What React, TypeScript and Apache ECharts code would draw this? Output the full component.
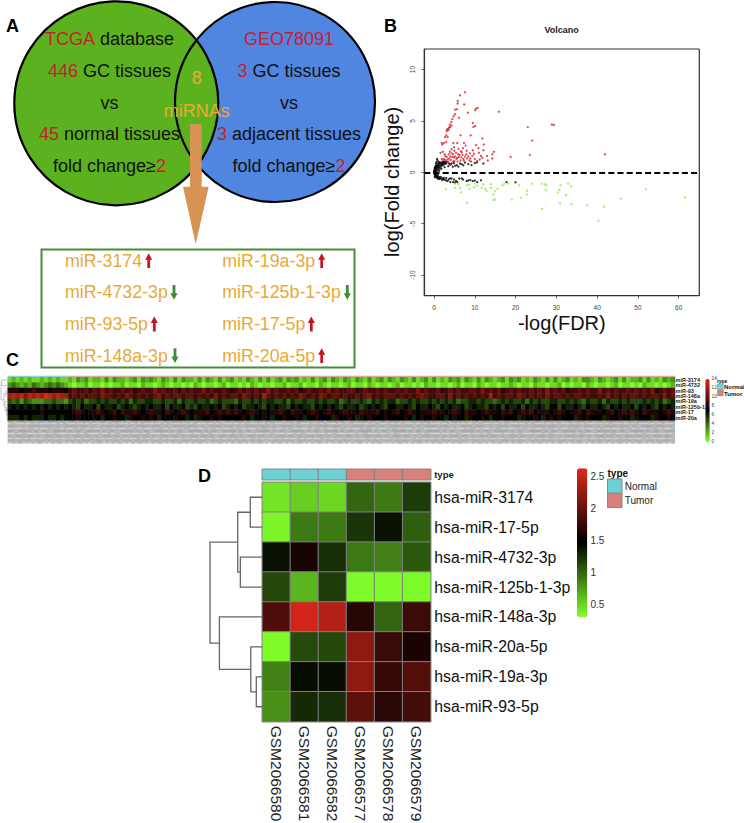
import React, { useEffect, useRef } from "react";
import * as echarts from "echarts";

const FONT = "'Liberation Sans', Arial, sans-serif";

// ---------- Panel B: volcano values ([-log(FDR), log(Fold change)])
const volcanoUp: number[][] = [
  [7.6,7.8],[6.4,7.5],[5.8,6.95],[5.8,6.7],[7.4,6.6],[5.2,6.1],[5.6,6.15],[10.3,6.2],[10.7,6.25],[10.1,6.05],
  [8.3,5.8],[15.9,5.9],[5.15,5.65],[4.8,5.45],[4.5,5.2],[4.25,4.9],[6.1,5.3],[9.5,4.8],[10.1,4.5],[9.65,4.4],
  [23,4.4],[28.9,4.65],[29.4,4.6],[3.9,4.65],[3.7,4.4],[3.35,4.2],[3.1,4.0],[3.5,4.1],[4.0,4.4],[4.3,4.55],
  [3.2,4.15],[3.6,4.25],[6.5,3.6],[9.0,3.6],[3.0,3.6],[2.7,3.45],[3.35,3.45],[11.85,3.3],[24.1,3.1],[2.45,2.85],
  [2.05,2.7],[3.0,2.95],[4.75,2.85],[5.7,2.85],[7.35,2.85],[7.75,2.6],[12.2,2.7],[10.3,2.65],[10.9,2.35],[1.9,2.85],
  [4.9,2.45],[4.3,2.25],[7.1,2.35],[6,2.3],[9.5,2.15],[12.1,2.15],[11,1.9],[14.7,2.0],[14.3,1.75],[23.5,1.7],
  [41.9,1.75],[18.8,1.5],[13,1.6],[11.5,1.6],[11.85,1.4],[14.3,1.35],[13.2,1.15],[1.6,1.9],[2.6,1.75],[3.1,1.5],
  [4.3,1.85],[5.4,1.9],[5.9,1.75],[6.8,1.95],[7.0,1.7],[7.6,1.55],[8.1,1.35],[9.4,1.6],[10.0,1.3],[4.9,1.45],
  [2.5,1.3],[2.9,1.15],[3.3,1.25],[3.7,1.35],[4.1,1.2],[4.5,1.5],[5.0,1.1],[5.5,1.3],[6.1,1.5],[6.5,1.15],
  [7.2,1.3],[8.7,1.15],[9.1,1.05],[10.6,1.1],[11.2,1.25],[2.1,1.05],[2.3,1.2],[3.5,1.05],[4.7,1.05],[5.8,1.05],
  [1.9,1.3],[2.8,1.6],[3.6,1.75],[4.0,1.55],[4.7,1.75],[5.2,1.55],[5.7,1.4],[6.3,1.7],[6.7,1.45],[7.3,1.15],
  [7.9,1.75],[8.4,1.55],[8.9,1.35],[9.8,1.8],[3.9,2.0],[2.2,2.0],[5.0,2.1],[6.6,2.05],[8.0,2.1],[8.8,1.85],
];
const volcanoMid: number[][] = [
  [0,0],[0.05,0.1],[0.1,-0.1],[0.1,0.2],[0.15,-0.2],[0.2,0.05],[0.2,0.3],[0.25,-0.3],[0.3,0.15],[0.3,-0.1],
  [0.35,0.35],[0.4,-0.35],[0.45,0.05],[0.5,0.45],[0.5,-0.2],[0.55,-0.42],[0.6,0.3],[0.65,0.5],[0.7,-0.3],[0.75,0.15],
  [0.8,0.55],[0.85,-0.45],[0.9,0.38],[0.95,0.6],[1.0,-0.4],[1.05,0.25],[1.1,0.65],[1.15,-0.5],[1.2,0.5],[1.3,0.7],
  [1.35,-0.55],[1.4,0.4],[1.5,0.75],[1.6,-0.6],[1.65,0.55],[1.75,0.8],[1.85,-0.5],[1.9,0.65],[2.0,0.85],[2.15,-0.65],
  [2.2,0.72],[2.35,0.88],[2.5,-0.7],[2.55,0.78],[2.7,0.92],[2.9,-0.78],[3.0,0.85],[3.1,0.98],[0.9,1.15],[0.5,0.85],
  [0.6,1.0],[0.75,1.3],[1.2,1.0],[0.4,0.65],[3.3,-0.85],[3.5,0.6],[3.7,0.85],[3.9,-0.6],[4.0,0.75],[4.3,0.85],
  [4.3,-0.6],[4.6,0.55],[4.9,0.9],[5.15,-1],[5.2,0.65],[5.6,0.7],[5.7,-0.95],[6.0,0.55],[6.2,-0.6],[6.4,0.85],
  [6.8,0.8],[6.8,-0.6],[7.2,0.68],[7.1,-0.7],[7.6,0.95],[8.0,-0.85],[8.4,0.8],[8.4,-0.8],[8.9,-0.75],[9.2,0.7],
  [9.5,-0.85],[10,0.9],[10,-0.8],[10.5,0.97],[10.6,-0.95],[11.5,-0.78],[12.1,0.85],[17.8,-0.95],[20,-0.97],[4.7,-0.95],
  [1.0,-0.2],[1.3,0.15],[0.2,-0.45],[0.65,-0.1],[0.15,0.42],[2.6,0.5],[3.0,-0.55],[1.8,0.35],
  [0.3,0.5],[0.45,0.6],[0.7,0.72],[1.0,0.85],[1.25,0.9],[1.55,0.95],[1.9,0.95],[2.3,1.0],[2.65,1.02],[0.35,-0.2],
  [0.6,-0.5],[0.9,-0.6],[1.25,-0.65],[1.5,-0.45],[2.0,-0.75],[2.4,-0.55],[3.6,-0.7],[4.0,-0.95],[4.9,-0.7],[5.4,-0.85],
];
const volcanoDown: number[][] = [
  [2.95,-1.65],[5.15,-1.1],[6,-1.15],[5.15,-1.5],[6.4,-1.5],[6.6,-1.95],[8.1,-1.25],[8.65,-1.2],[8.65,-1.6],[8.1,-2.95],
  [9.8,-1.45],[10.05,-1.1],[10.6,-1.3],[11.7,-1.5],[12.1,-1.15],[12.5,-1.6],[12.9,-1.8],[13.9,-1.15],[14,-1.5],[15,-1.85],
  [15.6,-1.6],[14.6,-2.15],[14.55,-2.7],[15,-2.65],[16.8,-1.25],[17.25,-1.1],[18.2,-1.1],[19.1,-2.65],[20.85,-1.25],[21.4,-2.5],
  [22.8,-1.8],[22.8,-2.15],[24,-1.1],[26.4,-1.1],[27.2,-1.15],[27.6,-1.25],[27.4,-1.75],[26.5,-3.55],[30.35,-1.95],[30.75,-1.7],
  [31,-1.25],[30.9,-3],[32.4,-2.2],[32.9,-1.1],[33.6,-1.35],[33.7,-3.1],[37.6,-3.2],[41.7,-3.35],[40.3,-4.7],[45.8,-2.55],
  [52,-1.65],[61.5,-2.45],
];
const volcanoXTicks = [0, 10, 20, 30, 40, 50, 60];
const volcanoYTicks = [-10, -5, 0, 5, 10];

// ---------- Panel C: expression per sample, one hex digit per sample (0..e), 15 normal then tumour samples
const cRowNames = ["miR-3174", "miR-4732", "miR-93", "miR-148a", "miR-19a", "miR-125b-1", "miR-17", "miR-20a"];
const cNormalCount = 15;
const cMiR3174 = "121212112121211 2132312213 1322123132 3213213132 2131321312 3121321313 1231323121 3123132132 1321312313 2132131231 3121323132 1313212313 2312132131 3123121332 1321231312 2313121323";
const cMiR4732 = "343232432343432 1011201101 0112011021 1012101101 0210110120 1101021011 0112011201 1021011012 0110210110 1201101021 1011012011 0210110112 1011021101 1201011021 0110120110 1021101012";
const cMiR93 = "888788988878887 9a99a8a9b9 a99a9a89a9 9b9a99a8a9 a99b9a99a9 89a9a9a99b 9a99a9a89a 99a9b9a99a a89a99a9a9 9a9a99b9a9 9a89a9a99a a9b9a9a89a 9a99a9a9b9 a9a899a9a9 9b9a9a99a9 a9a9b89a9a";
const cMiR148a = "cdcdbdcdcedcdcc 9a9a9aa9ba a9a9ba9a9a 9ab9a9aa9a a9a9a9b9a9 aa9ba9a9ca 9a9a9a9ba9 a9ba9aa9a9 9a9ab9a9aa a9a9a9aba9 9aa9b9a9a9 a9a9c9a9aa 9ba9a9a9b9 aa9a9aa9a9 9a9b9a9a9a a9a9aa9b9a";
const cMiR19a = "545354333445443 5656455656 5565646556 6556556465 5655645655 5465565656 6556465565 5656556456 5565465656 6455656556 5656564556 6565545656 5564656556 6556565465 5646556565 5565656456";
const cMiR125b = "676767676767676 7657667576 6756765676 7667576675 6576676756 7675667657 6766576766 5767676576 6756767657 7667657667 6576766756 7665767576 6757667657 7576676576 6765767667 5767657676";
const cMiR17 = "777777778777777 7898788987 8979889878 9887987898 7888978989 8987898787 8898798878 9878987898 8798889787 8978987888 9887898798 8789887989 7898978887 8987889798 8878978989 8798887898";
const cMiR20a = "666767666766767 7787778767 7877687787 8767778776 7687787877 7778767787 6778778767 7877768778 7687877787 7778767877 8776787768 7787677877 7687787678 7877768787 7768778776 8777687787";
const cRows = [cMiR3174, cMiR4732, cMiR93, cMiR148a, cMiR19a, cMiR125b, cMiR17, cMiR20a].map((s) =>
  s.replace(/ /g, "").split("").map((d) => parseInt(d, 16))
);
const cColumns = cRows[0].map((_, i) => String(i));
const cBarTicks = [14, 12, 10, 8, 6, 4, 2, 0];
// branches: [rowA, heightA, rowB, heightB, mergeHeight]
const cTree = [
  [2, 0, 3, 0, 0.25], [6, 0, 7, 0, 0.1], [5, 0, 6.5, 0.1, 0.2], [4, 0, 5.75, 0.2, 0.4],
  [2.5, 0.25, 4.9, 0.4, 0.55], [0, 0, 1, 0, 0.9], [0.5, 0.9, 3.7, 0.55, 1],
];

// ---------- Panel D
const dRowNames = ["hsa-miR-3174", "hsa-miR-17-5p", "hsa-miR-4732-3p", "hsa-miR-125b-1-3p", "hsa-miR-148a-3p", "hsa-miR-20a-5p", "hsa-miR-19a-3p", "hsa-miR-93-5p"];
const dSamples = ["GSM2066580", "GSM2066581", "GSM2066582", "GSM2066577", "GSM2066578", "GSM2066579"];
const dType = [0, 0, 0, 1, 1, 1];
const dMiR3174 = [0.41, 0.52, 0.47, 0.99, 0.9, 1.19];
const dMiR17 = [0.33, 0.91, 0.9, 1.22, 1.38, 1.03];
const dMiR4732 = [1.38, 1.58, 1.25, 0.91, 0.87, 1.05];
const dMiR125b = [1.13, 0.63, 1.18, 0.31, 0.31, 0.31];
const dMiR148a = [1.87, 2.55, 2.4, 1.66, 1.0, 1.77];
const dMiR20a = [0.31, 1.12, 1.13, 2.2, 1.74, 1.59];
const dMiR19a = [0.87, 1.4, 1.4, 2.2, 1.73, 1.9];
const dMiR93 = [0.8, 1.27, 1.25, 1.95, 1.68, 1.81];
const dRows = [dMiR3174, dMiR17, dMiR4732, dMiR125b, dMiR148a, dMiR20a, dMiR19a, dMiR93];
const dBarTicks = [2.5, 2, 1.5, 1, 0.5];
const dTree = [
  [0, 0, 1, 0, 0.23], [2, 0, 3, 0, 0.42], [0.5, 0.23, 2.5, 0.42, 0.47], [6, 0, 7, 0, 0.115],
  [5, 0, 6.5, 0.115, 0.22], [4, 0, 5.75, 0.22, 0.82], [1.5, 0.47, 4.875, 0.82, 1],
];

// ---------- Panel A
const listLeft = [
  { name: "miR-3174", up: true }, { name: "miR-4732-3p", up: false },
  { name: "miR-93-5p", up: true }, { name: "miR-148a-3p", up: false },
];
const listRight = [
  { name: "miR-19a-3p", up: true }, { name: "miR-125b-1-3p", up: false },
  { name: "miR-17-5p", up: true }, { name: "miR-20a-5p", up: true },
];

const RED = "#c5222c";
const INK = "#111111";
const GOLD = "#e8aa35";
const LIME = "#80ff2a";
const HOT = "#e0281a";
const TEAL = "#6fd0d6";
const SALMON = "#d9807a";

function richLine(x: number, y: number, text: string) {
  return {
    type: "text", x, y, silent: true,
    style: {
      text, align: "center", verticalAlign: "middle", fontFamily: FONT, fontSize: 18, fill: INK,
      rich: {
        r: { fill: RED, fontSize: 18, fontFamily: FONT },
        k: { fill: INK, fontSize: 18, fontFamily: FONT },
      },
    },
  };
}
function label(x: number, y: number, text: string, fontSize: number, fill = INK, fontWeight = "normal", align = "left") {
  return {
    type: "text", x, y, silent: true,
    style: { text, fontSize, fontWeight, fill, fontFamily: FONT, align, verticalAlign: "middle" },
  };
}
function miniArrow(x: number, y: number, up: boolean) {
  const c = up ? "#c01826" : "#3f8a35";
  const d = up ? -1 : 1;
  const half = 7.4;
  return {
    type: "polygon", silent: true,
    shape: {
      points: [
        [x, y + d * half], [x + 3.6, y + d * (half - 6.5)], [x + 1.4, y + d * (half - 6.5)], [x + 1.4, y - d * half],
        [x - 1.4, y - d * half], [x - 1.4, y + d * (half - 6.5)], [x - 3.6, y + d * (half - 6.5)],
      ],
    },
    style: { fill: c },
  };
}
function frameLine(x1: number, y1: number, x2: number, y2: number) {
  return { type: "line", silent: true, z: 100, shape: { x1, y1, x2, y2 }, style: { stroke: "#333333", lineWidth: 1.2 } };
}

function treeSeries(xAxisIndex: number, yAxisIndex: number, tree: number[][], stroke: string, lineWidth: number) {
  return {
    type: "custom", coordinateSystem: "cartesian2d", xAxisIndex, yAxisIndex, silent: true, clip: false,
    encode: { x: [1, 3, 4], y: [0, 2] },
    data: tree,
    renderItem: (_: any, api: any) => {
      const rowA = api.value(0), hA = api.value(1), rowB = api.value(2), hB = api.value(3), hM = api.value(4);
      return {
        type: "polyline",
        shape: { points: [api.coord([hA, rowA]), api.coord([hM, rowA]), api.coord([hM, rowB]), api.coord([hB, rowB])] },
        style: { stroke, lineWidth, fill: "none" },
      };
    },
  };
}

function buildOption() {
  const itemX = [65, 222.3];
  const rowY = [260.7, 292.3, 324, 355.7];
  const leftArrowX = [148.7, 174, 154.3, 175];
  const rightArrowX = [321.7, 347.3, 311.3, 321.7];

  const graphic: any[] = [
    label(6, 25.5, "A", 18, "#000", "bold"),
    label(384, 25.5, "B", 18, "#000", "bold"),
    label(6, 360, "C", 18, "#000", "bold"),
    label(198, 475.5, "D", 18, "#000", "bold"),
    // Volcano frame
    frameLine(424.3, 49, 699.3, 49),
    frameLine(699.3, 49, 699.3, 295.7),
    frameLine(699.3, 295.7, 424.3, 295.7),
    frameLine(424.3, 295.7, 424.3, 49),
    // Venn: fills, then both outlines
    { type: "circle", silent: true, shape: { cx: 275, cy: 102, r: 100 }, style: { fill: "#5086e0" } },
    { type: "circle", silent: true, shape: { cx: 116.3, cy: 103.3, r: 102 }, style: { fill: "#5cb21e" } },
    { type: "circle", silent: true, shape: { cx: 275, cy: 102, r: 100 }, style: { fill: "none", stroke: "#000", lineWidth: 2.2 } },
    { type: "circle", silent: true, shape: { cx: 116.3, cy: 103.3, r: 102 }, style: { fill: "none", stroke: "#000", lineWidth: 2.2 } },
    richLine(109.5, 39, "{r|TCGA} {k|database}"),
    richLine(109.5, 71, "{r|446} {k|GC tissues}"),
    richLine(109.5, 102.7, "{k|vs}"),
    richLine(109.5, 134.3, "{r|45} {k|normal tissues}"),
    richLine(109.5, 166, "{k|fold change≥}{r|2}"),
    richLine(289, 39, "{r|GEO78091}"),
    richLine(289, 71, "{r|3} {k|GC tissues}"),
    richLine(289, 102.7, "{k|vs}"),
    richLine(289, 134.3, "{r|3} {k|adjacent tissues}"),
    richLine(289, 166, "{k|fold change≥}{r|2}"),
    label(196.7, 78.3, "8", 18, GOLD, "normal", "center"),
    label(196.7, 110.7, "miRNAs", 18, GOLD, "normal", "center"),
    {
      type: "polygon", silent: true,
      shape: { points: [[190, 124], [201.7, 124], [201.7, 186.7], [208.7, 186.7], [195.7, 244], [183, 186.7], [190, 186.7]] },
      style: { fill: "#d89253" },
    },
    { type: "rect", silent: true, shape: { x: 41.5, y: 249.5, width: 313, height: 118 }, style: { fill: "#fff", stroke: "#4a8b3b", lineWidth: 2 } },
  ];
  listLeft.forEach((it, i) => {
    graphic.push(label(itemX[0], rowY[i], it.name, 17.8, GOLD));
    graphic.push(miniArrow(leftArrowX[i], rowY[i], it.up));
  });
  listRight.forEach((it, i) => {
    graphic.push(label(itemX[1], rowY[i], it.name, 17.8, GOLD));
    graphic.push(miniArrow(rightArrowX[i], rowY[i], it.up));
  });

  // Panel C: illegible sample-name strip, then bar ticks and legend
  graphic.push({ type: "rect", silent: true, shape: { x: 7.7, y: 420.3, width: 667.3, height: 23.4 }, style: { fill: "#b8b8b8" } });
  [
    { y: 421.5, c: "#9e9e9e", d: [6, 3, 11, 2, 4, 5] },
    { y: 423.5, c: "#cfcfcf", d: [3, 4, 9, 2, 5, 3] },
    { y: 426, c: "#a2a2a2", d: [9, 4, 3, 5, 12, 3] },
    { y: 428.5, c: "#d4d4d4", d: [4, 3, 7, 4, 2, 6] },
    { y: 431, c: "#9c9c9c", d: [5, 6, 13, 3, 3, 4] },
    { y: 433.5, c: "#d6d6d6", d: [7, 3, 4, 5, 10, 2] },
    { y: 436, c: "#a0a0a0", d: [3, 5, 8, 3, 6, 4] },
    { y: 438.5, c: "#d0d0d0", d: [5, 2, 6, 4, 3, 3] },
    { y: 441, c: "#a8a8a8", d: [8, 3, 4, 2, 7, 5] },
    { y: 443, c: "#ececec", d: [4, 3, 2, 6, 3, 2] },
  ].forEach((s) =>
    graphic.push({
      type: "line", silent: true, shape: { x1: 7.7, y1: s.y, x2: 675, y2: s.y },
      style: { stroke: s.c, lineWidth: 1.2, lineDash: s.d },
    })
  );
  cBarTicks.forEach((t) => graphic.push(label(711.5, 441 - t * 4.43, String(t), 4.8, "#444")));
  graphic.push(label(717, 380.5, "type", 5, "#111", "bold"));
  graphic.push({ type: "rect", silent: true, shape: { x: 717.3, y: 384, width: 6, height: 6 }, style: { fill: TEAL, stroke: "#888", lineWidth: 0.4 } });
  graphic.push({ type: "rect", silent: true, shape: { x: 717.3, y: 390, width: 6, height: 6 }, style: { fill: SALMON, stroke: "#888", lineWidth: 0.4 } });
  graphic.push(label(724, 387, "Normal", 6, "#111", "bold"));
  graphic.push(label(724, 393.5, "Tumor", 6, "#111", "bold"));

  // Panel D: bar ticks and legend
  dBarTicks.forEach((t) => graphic.push(label(590.5, 476.7 + (2.5 - t) * 63.65, String(t), 10, "#333")));
  graphic.push(label(607.5, 473, "type", 10, "#111", "bold"));
  graphic.push({ type: "rect", silent: true, shape: { x: 607.5, y: 479, width: 14.5, height: 14.3 }, style: { fill: TEAL, stroke: "#888", lineWidth: 1 } });
  graphic.push({ type: "rect", silent: true, shape: { x: 607.5, y: 493.3, width: 14.5, height: 14.3 }, style: { fill: SALMON, stroke: "#888", lineWidth: 1 } });
  graphic.push(label(624.7, 486.5, "Normal", 10, "#222"));
  graphic.push(label(624.7, 500.5, "Tumor", 10, "#222"));

  const cHeat: number[][] = [];
  cRows.forEach((row, r) => row.forEach((v, c) => cHeat.push([c, r, v])));
  const cAnno = cColumns.map((_, i) => [i, 0, i < cNormalCount ? 0 : 1]);
  const dHeat: number[][] = [];
  dRows.forEach((row, r) => row.forEach((v, c) => dHeat.push([c, r, v])));
  const dAnno = dType.map((t, i) => [i, 0, t]);

  const hiddenCat = (data: string[], gridIndex: number, extra: any = {}) => ({
    type: "category", gridIndex, data,
    axisLine: { show: false }, axisTick: { show: false }, axisLabel: { show: false }, splitLine: { show: false }, splitArea: { show: false },
    ...extra,
  });
  const hiddenVal = (gridIndex: number, min: number, max: number, inverse: boolean) => ({
    type: "value", gridIndex, min, max, inverse, show: false, splitLine: { show: false },
  });

  return {
    animation: false,
    backgroundColor: "#ffffff",
    title: {
      text: "Volcano", left: 556.7, top: 20, textAlign: "center",
      textStyle: { fontSize: 9, fontWeight: "bold", fontFamily: FONT, color: "#222" },
    },
    grid: [
      { left: 424.3, top: 49, width: 275, height: 246.7, outerBoundsMode: "none" },
      { left: 7.7, top: 376, width: 667.3, height: 1.4, outerBoundsMode: "none" },
      { left: 7.7, top: 377.3, width: 667.3, height: 43, outerBoundsMode: "none" },
      { left: 1, top: 377.3, width: 6.7, height: 43, outerBoundsMode: "none" },
      { left: 262.3, top: 469.3, width: 168.4, height: 10.4, outerBoundsMode: "none" },
      { left: 262.3, top: 482.3, width: 168.4, height: 239.4, outerBoundsMode: "none" },
      { left: 210, top: 482.3, width: 52.3, height: 239.4, outerBoundsMode: "none" },
    ],
    xAxis: [
      {
        type: "value", gridIndex: 0, min: -2.38, max: 65.05, name: "-log(FDR)", nameLocation: "middle", nameGap: 17,
        nameTextStyle: { fontSize: 20, fontFamily: FONT, color: "#111" },
        splitLine: { show: false },
        axisLine: { show: true, onZero: false, lineStyle: { color: "#333", width: 1.2 } },
        axisTick: { show: true, length: 3, customValues: volcanoXTicks, lineStyle: { color: "#444", width: 0.8 } },
        axisLabel: { customValues: volcanoXTicks, fontSize: 6.5, color: "#444", fontFamily: FONT, margin: 8 },
      },
      hiddenCat(cColumns, 1),
      hiddenCat(cColumns, 2),
      hiddenVal(3, 0, 1, true),
      hiddenCat(dSamples, 4),
      hiddenCat(dSamples, 5, {
        axisLabel: { show: true, interval: 0, rotate: -90, margin: 4, fontSize: 15.5, color: "#222", fontFamily: FONT },
      }),
      hiddenVal(6, 0, 1, true),
    ],
    yAxis: [
      {
        type: "value", gridIndex: 0, min: -12, max: 12, name: "log(Fold change)", nameLocation: "middle", nameGap: 22,
        nameTextStyle: { fontSize: 20, fontFamily: FONT, color: "#111", padding: [0, 19, 0, 0] },
        splitLine: { show: false },
        axisLine: { show: true, onZero: false, lineStyle: { color: "#333", width: 1.2 } },
        axisTick: { show: true, length: 3, customValues: volcanoYTicks, lineStyle: { color: "#444", width: 0.8 } },
        axisLabel: { customValues: volcanoYTicks, rotate: 90, fontSize: 6.5, color: "#444", fontFamily: FONT, margin: 8 },
      },
      hiddenCat(["type"], 1),
      hiddenCat(cRowNames, 2, {
        inverse: true, position: "right",
        axisLabel: { show: true, interval: 0, margin: 0.5, fontSize: 5.5, fontWeight: "bold", color: "#222", fontFamily: FONT },
      }),
      hiddenVal(3, -0.5, 7.5, true),
      hiddenCat(["type"], 4, {
        position: "right",
        axisLabel: { show: true, margin: 3.5, fontSize: 9.5, fontWeight: "bold", color: "#222", fontFamily: FONT },
      }),
      hiddenCat(dRowNames, 5, {
        inverse: true, position: "right",
        axisLabel: { show: true, interval: 0, margin: 3.5, fontSize: 15.8, color: "#111", fontFamily: FONT },
      }),
      hiddenVal(6, -0.5, 7.5, true),
    ],
    visualMap: [
      {
        type: "piecewise", show: false, seriesIndex: 3, dimension: 2,
        pieces: [{ value: 0, color: "#8fd0e0" }, { value: 1, color: "#e0a5a5" }],
      },
      {
        type: "continuous", show: true, seriesIndex: 4, dimension: 2, min: 0, max: 14, left: 705.3, top: 379,
        itemWidth: 4.4, itemHeight: 63, padding: 0, text: ["", ""], calculable: false, hoverLink: false,
        inRange: { color: [LIME, "#000000", HOT] },
      },
      {
        type: "piecewise", show: false, seriesIndex: 6, dimension: 2,
        pieces: [{ value: 0, color: TEAL }, { value: 1, color: SALMON }],
      },
      {
        type: "continuous", show: true, seriesIndex: 7, dimension: 2, min: 0.29, max: 2.63, left: 577, top: 468.3,
        itemWidth: 10.3, itemHeight: 149, padding: 0, text: ["", ""], calculable: false, hoverLink: false,
        inRange: { color: [LIME, "#000000", HOT] },
      },
    ],
    series: [
      { type: "scatter", xAxisIndex: 0, yAxisIndex: 0, data: volcanoUp, symbol: "circle", symbolSize: 2.3, itemStyle: { color: "#d8202c" }, silent: true },
      {
        type: "scatter", xAxisIndex: 0, yAxisIndex: 0, data: volcanoMid, symbol: "circle", symbolSize: 2.3, itemStyle: { color: "#000" }, silent: true,
        markLine: {
          silent: true, symbol: "none", animation: false, label: { show: false },
          lineStyle: { color: "#000", width: 2, type: [6, 3.2] },
          data: [{ yAxis: 0 }],
        },
      },
      { type: "scatter", xAxisIndex: 0, yAxisIndex: 0, data: volcanoDown, symbol: "circle", symbolSize: 2.3, itemStyle: { color: "#84f032" }, silent: true },
      { type: "heatmap", xAxisIndex: 1, yAxisIndex: 1, data: cAnno, silent: true, progressive: 0 },
      { type: "heatmap", xAxisIndex: 2, yAxisIndex: 2, data: cHeat, silent: true, progressive: 0 },
      treeSeries(3, 3, cTree, "#b5b5b5", 0.8),
      { type: "heatmap", xAxisIndex: 4, yAxisIndex: 4, data: dAnno, silent: true, itemStyle: { borderColor: "#808080", borderWidth: 1 } },
      { type: "heatmap", xAxisIndex: 5, yAxisIndex: 5, data: dHeat, silent: true, itemStyle: { borderColor: "#808080", borderWidth: 1 } },
      treeSeries(6, 6, dTree, "#666666", 1.3),
    ],
    graphic: { elements: graphic },
  };
}

export default function App() {
  const ref = useRef<HTMLDivElement>(null);
  useEffect(() => {
    document.body.style.margin = "0";
    const chart = echarts.init(ref.current!, null, { renderer: "svg", width: 744, height: 823 });
    chart.setOption(buildOption() as any);
    return () => chart.dispose();
  }, []);
  return <div ref={ref} style={{ width: 744, height: 823, overflow: "hidden" }} />;
}
